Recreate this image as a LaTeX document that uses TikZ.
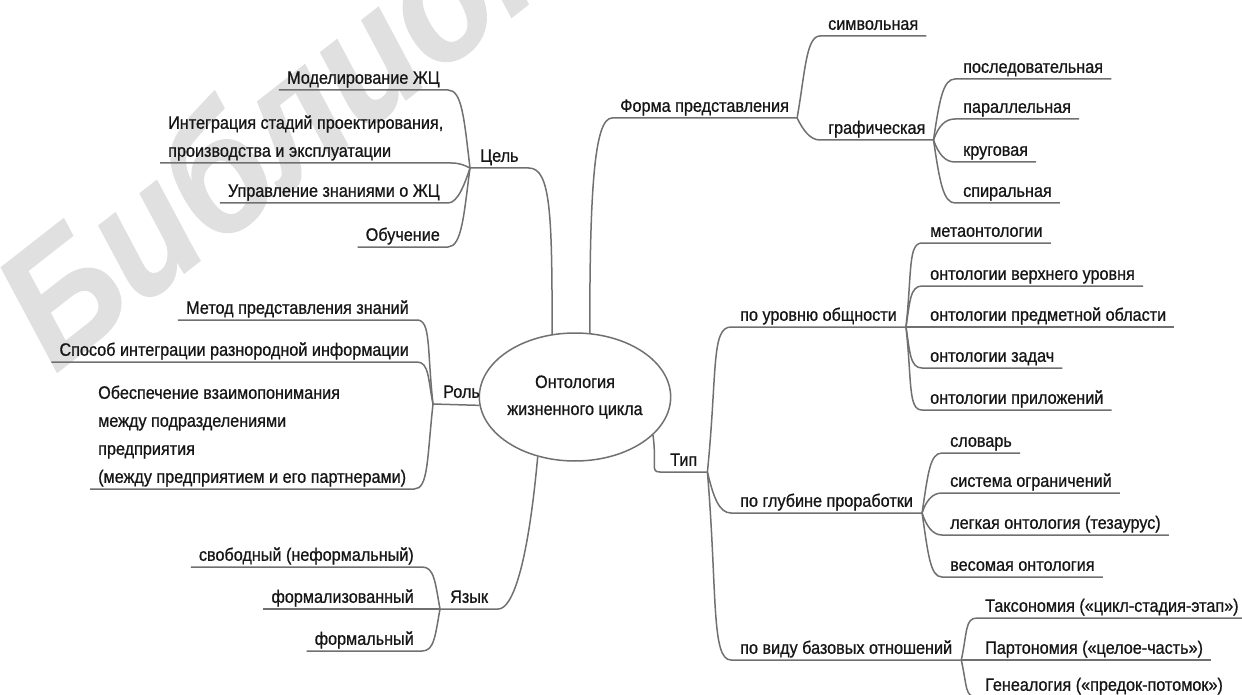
\documentclass[tikz,border=0pt]{standalone}
\usepackage{fontspec}
\setmainfont{Liberation Sans}[FakeStretch=0.9, FakeBold=0.8]
\usetikzlibrary{shapes.geometric}
\definecolor{linec}{RGB}{112,112,112}
\definecolor{txtc}{RGB}{22,22,22}
\definecolor{wmc}{RGB}{224,224,224}
\begin{document}
\begin{tikzpicture}[x=1pt,y=1pt,
  conn/.style={draw=linec, line width=1.5pt},
  tx/.style={font=\fontsize{18}{28}\selectfont, text=txtc, inner xsep=8pt, inner ysep=0pt, text depth=6pt},
  lbl/.style={tx, text height=13pt},
  mlbl/.style={tx, align=left},
  rootnode/.style={ellipse, draw=linec, line width=1.5pt, minimum width=166pt, minimum height=128pt, inner sep=0pt, align=center, font=\fontsize{18}{27}\selectfont, text=txtc},
  wm/.style={font=\fontsize{170}{170}\selectfont\bfseries\itshape, text=wmc, inner sep=0pt}
]
\useasboundingbox (0,0) rectangle (1242,-695);

% watermark
\node[wm, rotate=38, anchor=base west] (wmark) at (55,-374) {Библиотека};

% root
\node[rootnode] (root) at (575,-397) {Онтология\\жизненного цикла};

% level 1
\node[lbl, anchor=south west, inner xsep=10pt] (cel) at (470,-168) {Цель};
\node[lbl, anchor=south west] (forma) at (612,-118) {Форма представления};
\node[lbl, anchor=south west, inner xsep=10pt] (tip) at (660,-472) {Тип};
\node[lbl, anchor=south west, inner xsep=10pt] (rol) at (433,-404) {Роль};
\node[lbl, anchor=south west, inner xsep=10pt] (yaz) at (440,-609) {Язык};

% form children
\node[lbl, anchor=south west] (simv) at (820,-36) {символьная};
\node[lbl, anchor=south west] (graf) at (820,-140) {графическая};
\node[lbl, anchor=south west] (posl) at (955,-79) {последовательная};
\node[lbl, anchor=south west] (par) at (955,-119) {параллельная};
\node[lbl, anchor=south west] (krug) at (955,-162) {круговая};
\node[lbl, anchor=south west] (spir) at (955,-203) {спиральная};

% type children
\node[lbl, anchor=south west, inner xsep=9pt] (urov) at (731,-327) {по уровню общности};
\node[lbl, anchor=south west, inner xsep=9pt] (glub) at (731,-513) {по глубине проработки};
\node[lbl, anchor=south west, inner xsep=9pt] (vid) at (731,-660) {по виду базовых отношений};

\node[lbl, anchor=south west] (meta) at (922,-243) {метаонтологии};
\node[lbl, anchor=south west] (verh) at (922,-286) {онтологии верхнего уровня};
\node[lbl, anchor=south west] (pred) at (922,-327) {онтологии предметной области};
\node[lbl, anchor=south west] (zad) at (922,-368) {онтологии задач};
\node[lbl, anchor=south west] (pril) at (922,-410) {онтологии приложений};

\node[lbl, anchor=south west] (slov) at (942,-453) {словарь};
\node[lbl, anchor=south west] (sist) at (942,-493) {система ограничений};
\node[lbl, anchor=south west] (legk) at (942,-535) {легкая онтология (тезаурус)};
\node[lbl, anchor=south west] (ves) at (942,-577) {весомая онтология};

\node[lbl, anchor=south west] (taks) at (977,-618) {Таксономия («цикл-стадия-этап»)};
\node[lbl, anchor=south west] (part) at (977,-660) {Партономия («целое-часть»)};
\node[lbl, anchor=south west] (gen) at (977,-697) {Генеалогия («предок-потомок»)};

% goal children
\node[lbl, anchor=south east] (model) at (448,-90) {Моделирование ЖЦ};
\node[mlbl, anchor=south west] (integ) at (160,-163) {Интеграция стадий проектирования,\\производства и эксплуатации};
\node[lbl, anchor=south east] (uprav) at (448,-203) {Управление знаниями о ЖЦ};
\node[lbl, anchor=south east] (obuch) at (448,-247) {Обучение};

% role children
\node[lbl, anchor=south east] (metod) at (417,-320) {Метод представления знаний};
\node[lbl, anchor=south east] (sposob) at (417,-362) {Способ интеграции разнородной информации};
\node[mlbl, anchor=south west] (obesp) at (90,-489) {Обеспечение взаимопонимания\\между подразделениями\\предприятия\\(между предприятием и его партнерами)};

% language children
\node[lbl, anchor=south east] (svob) at (422,-567) {свободный (неформальный)};
\node[lbl, anchor=south east] (formz) at (422,-609) {формализованный};
\node[lbl, anchor=south east] (formal) at (422,-651) {формальный};

% connectors from root
\draw[conn] (root.110) .. controls +(0,120) and +(22,0) .. (cel.south east) -- (cel.south west);
\draw[conn] (root.77) .. controls +(0,140) and +(-18,0) .. (forma.south west) -- (forma.south east);
\draw[conn] (root.-26) .. controls +(4,-30) and +(-10,0) .. (tip.south west) -- (tip.south east);
\draw[conn] (root.185) -- (rol.south west);
\draw[conn] (root.238) .. controls +(-10,-110) and +(14,0) .. (yaz.south east) -- (yaz.south west);

% form
\draw[conn] (forma.south east) .. controls +(8,45) and +(-14,0) .. (simv.south west) -- (simv.south east);
\draw[conn] (forma.south east) .. controls +(6,-12) and +(-10,0) .. (graf.south west) -- (graf.south east);
\draw[conn] (graf.south east) .. controls +(6,40) and +(-12,0) .. (posl.south west) -- (posl.south east);
\draw[conn] (graf.south east) .. controls +(5,14) and +(-10,0) .. (par.south west) -- (par.south east);
\draw[conn] (graf.south east) .. controls +(5,-14) and +(-10,0) .. (krug.south west) -- (krug.south east);
\draw[conn] (graf.south east) .. controls +(6,-40) and +(-12,0) .. (spir.south west) -- (spir.south east);

% type
\draw[conn] (tip.south east) .. controls +(10,100) and +(-20,0) .. (urov.south west) -- (urov.south east);
\draw[conn] (tip.south east) .. controls +(6,-25) and +(-12,0) .. (glub.south west) -- (glub.south east);
\draw[conn] (tip.south east) .. controls +(10,-120) and +(-20,0) .. (vid.south west) -- (vid.south east);

\draw[conn] (urov.south east) .. controls +(6,55) and +(-14,0) .. (meta.south west) -- (meta.south east);
\draw[conn] (urov.south east) .. controls +(4,25) and +(-12,0) .. (verh.south west) -- (verh.south east);
\draw[conn] (urov.south east) -- (pred.south west) -- (pred.south east);
\draw[conn] (urov.south east) .. controls +(4,-25) and +(-12,0) .. (zad.south west) -- (zad.south east);
\draw[conn] (urov.south east) .. controls +(6,-55) and +(-14,0) .. (pril.south west) -- (pril.south east);

\draw[conn] (glub.south east) .. controls +(6,40) and +(-12,0) .. (slov.south west) -- (slov.south east);
\draw[conn] (glub.south east) .. controls +(4,12) and +(-10,0) .. (sist.south west) -- (sist.south east);
\draw[conn] (glub.south east) .. controls +(4,-12) and +(-10,0) .. (legk.south west) -- (legk.south east);
\draw[conn] (glub.south east) .. controls +(6,-40) and +(-12,0) .. (ves.south west) -- (ves.south east);

\draw[conn] (vid.south east) .. controls +(6,28) and +(-12,0) .. (taks.south west) -- (taks.south east);
\draw[conn] (vid.south east) -- (part.south west) -- (part.south east);
\draw[conn] (vid.south east) .. controls +(6,-28) and +(-12,0) .. (gen.south west) -- (gen.south east);

% goal
\draw[conn] (cel.south west) .. controls +(-6,50) and +(14,0) .. (model.south east) -- (model.south west);
\draw[conn] (cel.south west) .. controls +(-6,3) and +(8,0) .. (integ.south east) -- (integ.south west);
\draw[conn] (cel.south west) .. controls +(-5,-15) and +(10,0) .. (uprav.south east) -- (uprav.south west);
\draw[conn] (cel.south west) .. controls +(-6,-45) and +(14,0) .. (obuch.south east) -- (obuch.south west);

% role
\draw[conn] (rol.south west) .. controls +(-6,55) and +(14,0) .. (metod.south east) -- (metod.south west);
\draw[conn] (rol.south west) .. controls +(-5,25) and +(12,0) .. (sposob.south east) -- (sposob.south west);
\draw[conn] (rol.south west) .. controls +(-6,-55) and +(14,0) .. (obesp.south east) -- (obesp.south west);

% language
\draw[conn] (yaz.south west) .. controls +(-5,28) and +(12,0) .. (svob.south east) -- (svob.south west);
\draw[conn] (yaz.south west) -- (formz.south east) -- (formz.south west);
\draw[conn] (yaz.south west) .. controls +(-5,-28) and +(12,0) .. (formal.south east) -- (formal.south west);
\end{tikzpicture}
\end{document}
